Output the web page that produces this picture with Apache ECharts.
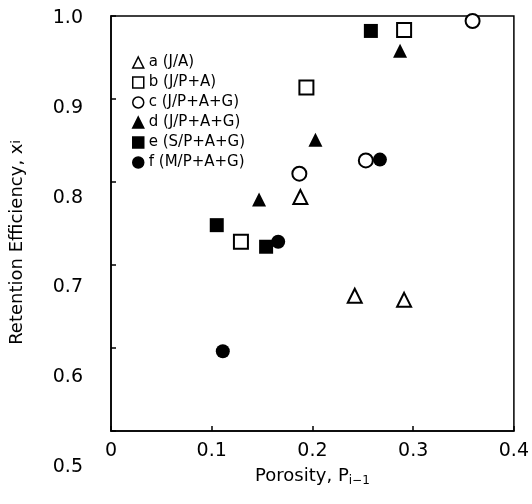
<!DOCTYPE html>
<html>
<head>
<meta charset="utf-8">
<script src="https://cdn.jsdelivr.net/npm/echarts@6/dist/echarts.min.js"></script>
<style>html,body{margin:0;padding:0;background:#fff}#c{width:532px;height:504px}</style>
</head>
<body>
<div id="c"></div>
<script>
// Data (porosity, retention efficiency)
const seriesNames = ['a (J/A)', 'b (J/P+A)', 'c (J/P+A+G)', 'd (J/P+A+G)', 'e (S/P+A+G)', 'f (M/P+A+G)'];
const dataA = [[0.188, 0.782], [0.242, 0.663], [0.291, 0.658]];
const dataB = [[0.129, 0.728], [0.194, 0.914], [0.291, 0.983]];
const dataC = [[0.187, 0.810], [0.253, 0.826], [0.359, 0.994]];
const dataD = [[0.147, 0.779], [0.203, 0.851], [0.287, 0.958]];
const dataE = [[0.105, 0.748], [0.154, 0.722], [0.258, 0.982]];
const dataF = [[0.111, 0.596], [0.166, 0.728], [0.267, 0.827]];
const xTicks = [0, 0.1, 0.2, 0.3, 0.4];
const yTicks = [0.5, 0.6, 0.7, 0.8, 0.9, 1.0];

const FONT = 'DejaVu Sans';
const chart = echarts.init(document.getElementById('c'), null, {renderer: 'canvas'});

function openStyle() { return {color: '#fff', borderColor: '#000', borderWidth: 2, opacity: 1}; }
function filledStyle() { return {color: '#000', borderColor: '#000', borderWidth: 0, opacity: 1}; }

const allData = [dataA, dataB, dataC, dataD, dataE, dataF];
const symbols = ['triangle', 'rect', 'circle', 'triangle', 'rect', 'circle'];
const open = [true, true, true, false, false, false];

const series = allData.map((d, i) => ({
  name: seriesNames[i],
  type: 'scatter',
  xAxisIndex: 0, yAxisIndex: 0,
  symbol: symbols[i],
  symbolSize: 14,
  data: d,
  itemStyle: open[i] ? openStyle() : filledStyle(),
  z: open[i] ? 3 : 4
}));

chart.setOption({
  animation: false,
  backgroundColor: '#fff',
  textStyle: {fontFamily: FONT, color: '#000'},
  grid: [
    {left: 111, right: 16, top: 16, bottom: 73, show: true, borderColor: '#000', borderWidth: 1.5, backgroundColor: 'transparent'},
    {left: 111, right: 16, top: 18, bottom: 37, show: false}
  ],
  legend: {
    orient: 'vertical',
    left: 127, top: 50,
    itemWidth: 11, itemHeight: 11, itemGap: 5,
    data: seriesNames,
    textStyle: {fontFamily: FONT, fontSize: 15, color: '#000'},
    itemStyle: {borderWidth: 1.5, opacity: 1}
  },
  xAxis: [
    {
      gridIndex: 0, type: 'value', min: xTicks[0], max: xTicks[xTicks.length - 1], interval: 0.1,
      axisLine: {show: true, lineStyle: {color: '#000', width: 1.5}},
      axisTick: {show: true, inside: true, length: 5, lineStyle: {color: '#000', width: 1.5}},
      splitLine: {show: false},
      axisLabel: {fontFamily: FONT, fontSize: 19, color: '#000', margin: 11,
        formatter: v => (v === 0 ? '0' : v.toFixed(1))},
      name: 'Porosity, P{s|i\u22121}', nameLocation: 'middle', nameGap: 34,
      nameTextStyle: {fontFamily: FONT, fontSize: 18, color: '#000',
        rich: {s: {fontFamily: FONT, fontSize: 12, color: '#000', verticalAlign: 'bottom', padding: [10, 0, 0, 0]}}}
    },
    {gridIndex: 1, type: 'value', min: 0, max: 0.4, show: false}
  ],
  yAxis: [
    {
      gridIndex: 0, type: 'value', min: yTicks[0], max: yTicks[yTicks.length - 1], interval: 0.1,
      axisLine: {show: true, lineStyle: {color: '#000', width: 1.5}},
      axisTick: {show: true, inside: true, length: 5, lineStyle: {color: '#000', width: 1.5}},
      splitLine: {show: false},
      axisLabel: {show: false}
    },
    {
      gridIndex: 1, type: 'value', min: yTicks[0], max: yTicks[yTicks.length - 1], interval: 0.1,
      axisLine: {show: false}, axisTick: {show: false}, splitLine: {show: false},
      axisLabel: {fontFamily: FONT, fontSize: 19, color: '#000', margin: 29,
        formatter: v => v.toFixed(1)},
      name: 'Retention Efficiency, x{s|i}', nameLocation: 'middle', nameGap: 86,
      nameTextStyle: {fontFamily: FONT, fontSize: 18, color: '#000',
        rich: {s: {fontFamily: FONT, fontSize: 12, color: '#000'}}}
    }
  ],
  series: series
});
</script>
</body>
</html>
